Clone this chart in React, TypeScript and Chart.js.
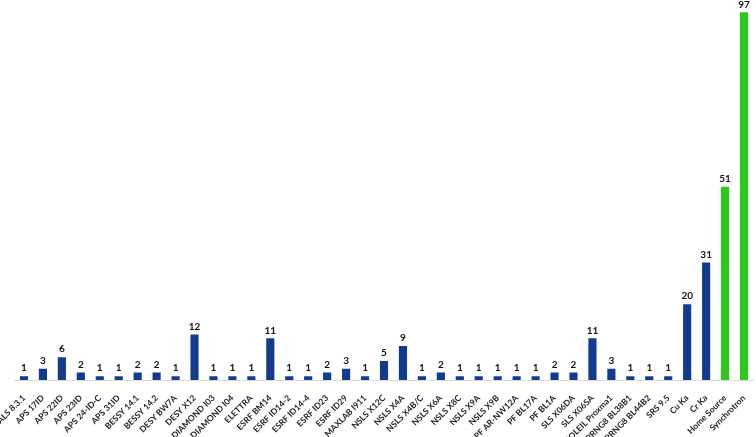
import React, { useEffect, useRef } from "react";
import { Chart, registerables } from "chart.js";

Chart.register(...registerables);

const categories = [
  "ALS 8.3.1", "APS 17ID", "APS 22ID", "APS 23ID", "APS 24-ID-C", "APS 31ID",
  "BESSY 14.1", "BESSY 14.2", "DESY BW7A", "DESY X12", "DIAMOND I03", "DIAMOND I04",
  "ELETTRA", "ESRF BM14", "ESRF ID14-2", "ESRF ID14-4", "ESRF ID23", "ESRF ID29",
  "MAXLAB I911", "NSLS X12C", "NSLS X4A", "NSLS X4B/C", "NSLS X6A", "NSLS X8C",
  "NSLS X9A", "NSLS X9B", "PF AR-NW12A", "PF BL17A", "PF BL1A", "SLS X06DA",
  "SLS X06SA", "SOLEIL Proxma1", "SPRNG8 BL38B1", "SPRNG8 BL44B2", "SRS 9.5",
  "Cu Ka", "Cr Ka", "Home Source", "Synchrotron",
];

const values = [
  1, 3, 6, 2, 1, 1,
  2, 2, 1, 12, 1, 1,
  1, 11, 1, 1, 2, 3,
  1, 5, 9, 1, 2, 1,
  1, 1, 1, 1, 2, 2,
  11, 3, 1, 1, 1,
  20, 31, 51, 97,
];

const totalCategories = ["Home Source", "Synchrotron"];

const BLUE = "#123B8F";
const GREEN = "#2DC81A";

const valueLabels = {
  id: "valueLabels",
  afterDatasetsDraw(chart: any) {
    const ctx = chart.ctx;
    const meta = chart.getDatasetMeta(0);
    ctx.save();
    ctx.font = "bold 10px Lato";
    ctx.fillStyle = "#111";
    ctx.textAlign = "center";
    ctx.textBaseline = "bottom";
    meta.data.forEach((bar: any, i: number) => {
      ctx.fillText(String(values[i]), bar.x, bar.y - 3);
    });
    ctx.restore();
  },
};

export default function App() {
  const ref = useRef<HTMLCanvasElement | null>(null);

  useEffect(() => {
    document.body.style.margin = "0";
    const canvas = ref.current;
    if (!canvas) return;
    const chart = new Chart(canvas, {
      type: "bar",
      data: {
        labels: categories,
        datasets: [
          {
            data: values,
            backgroundColor: categories.map((c) =>
              totalCategories.includes(c) ? GREEN : BLUE
            ),
            categoryPercentage: 1,
            barPercentage: 0.43,
          },
        ],
      },
      options: {
        animation: false,
        responsive: false,
        maintainAspectRatio: false,
        layout: { padding: { left: 14.5, right: 2.5, top: 1, bottom: 0 } },
        plugins: {
          legend: { display: false },
          tooltip: { enabled: false },
        },
        scales: {
          x: {
            grid: { display: false },
            border: { display: true, color: "#D9D9D9", width: 1 },
            ticks: {
              autoSkip: false,
              maxRotation: 45,
              minRotation: 45,
              color: "#222",
              padding: 5,
              font: { family: "Lato", size: 8.5, weight: "bold" },
            },
            afterFit(scale: any) {
              scale.paddingLeft = 0;
              scale.paddingRight = 0;
              scale.height = 57;
            },
          },
          y: {
            display: false,
            min: 0,
            max: 100,
          },
        },
      },
      plugins: [valueLabels],
    });
    return () => chart.destroy();
  }, []);

  return (
    <div style={{ width: 756, height: 437 }}>
      <canvas ref={ref} width={756} height={437} style={{ width: 756, height: 437 }} />
    </div>
  );
}
